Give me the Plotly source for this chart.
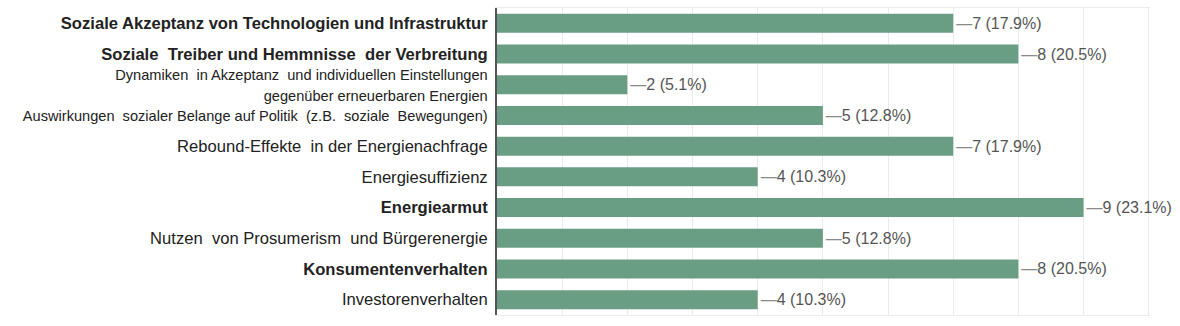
import plotly.graph_objects as go

categories = [
    "Soziale Akzeptanz von Technologien und Infrastruktur",
    "Soziale  Treiber und Hemmnisse  der Verbreitung",
    "Dynamiken  in Akzeptanz  und individuellen Einstellungen<br>gegenüber erneuerbaren Energien",
    "Auswirkungen  sozialer Belange auf Politik  (z.B.  soziale  Bewegungen)",
    "Rebound-Effekte  in der Energienachfrage",
    "Energiesuffizienz",
    "Energiearmut",
    "Nutzen  von Prosumerism  und Bürgerenergie",
    "Konsumentenverhalten",
    "Investorenverhalten",
]
bold = [True, True, False, False, False, False, True, False, True, False]
small = [False, False, True, True, False, False, False, False, False, False]
counts = [7, 8, 2, 5, 7, 4, 9, 5, 8, 4]
percents = [17.9, 20.5, 5.1, 12.8, 17.9, 10.3, 23.1, 12.8, 20.5, 10.3]

def fmt_label(c, b, s):
    t = c.replace("  ", "&nbsp; ")
    if b:
        return "<b>" + t + "</b>"
    if s:
        return "<span style='font-size:14.6px'>" + t + "</span>"
    return t

ticktext = [fmt_label(c, b, s) for c, b, s in zip(categories, bold, small)]
labels = [f"<span style='color:#8a8a8a'>—</span>{n} ({p}%)" for n, p in zip(counts, percents)]

fig = go.Figure(go.Bar(
    x=counts,
    y=list(range(len(categories))),
    orientation="h",
    marker=dict(color="#6a9e84", line=dict(width=0)),
    text=labels,
    textposition="outside",
    textfont=dict(family="Arial, Liberation Sans, sans-serif", size=16, color="#555555"),
    cliponaxis=False,
    width=0.62,
))

fig.update_layout(
    width=1180, height=326,
    margin=dict(l=497, r=30, t=8, b=11),
    paper_bgcolor="white", plot_bgcolor="white",
    showlegend=False,
    font=dict(family="Arial, Liberation Sans, sans-serif"),
    xaxis=dict(range=[0, 10.02], dtick=1, showticklabels=False, showgrid=True,
               gridcolor="#ebebeb", gridwidth=1, zeroline=False,
               showline=True, mirror=True, linecolor="#ebebeb", linewidth=1),
    yaxis=dict(tickmode="array", tickvals=list(range(len(categories))), ticktext=ticktext,
               autorange="reversed", showgrid=False, zeroline=False,
               showline=True, linecolor="#555555", linewidth=2, ticks="",
               ticklabelstandoff=4,
               tickfont=dict(size=16.6, color="#222222")),
)

fig.write_html("out.html")
